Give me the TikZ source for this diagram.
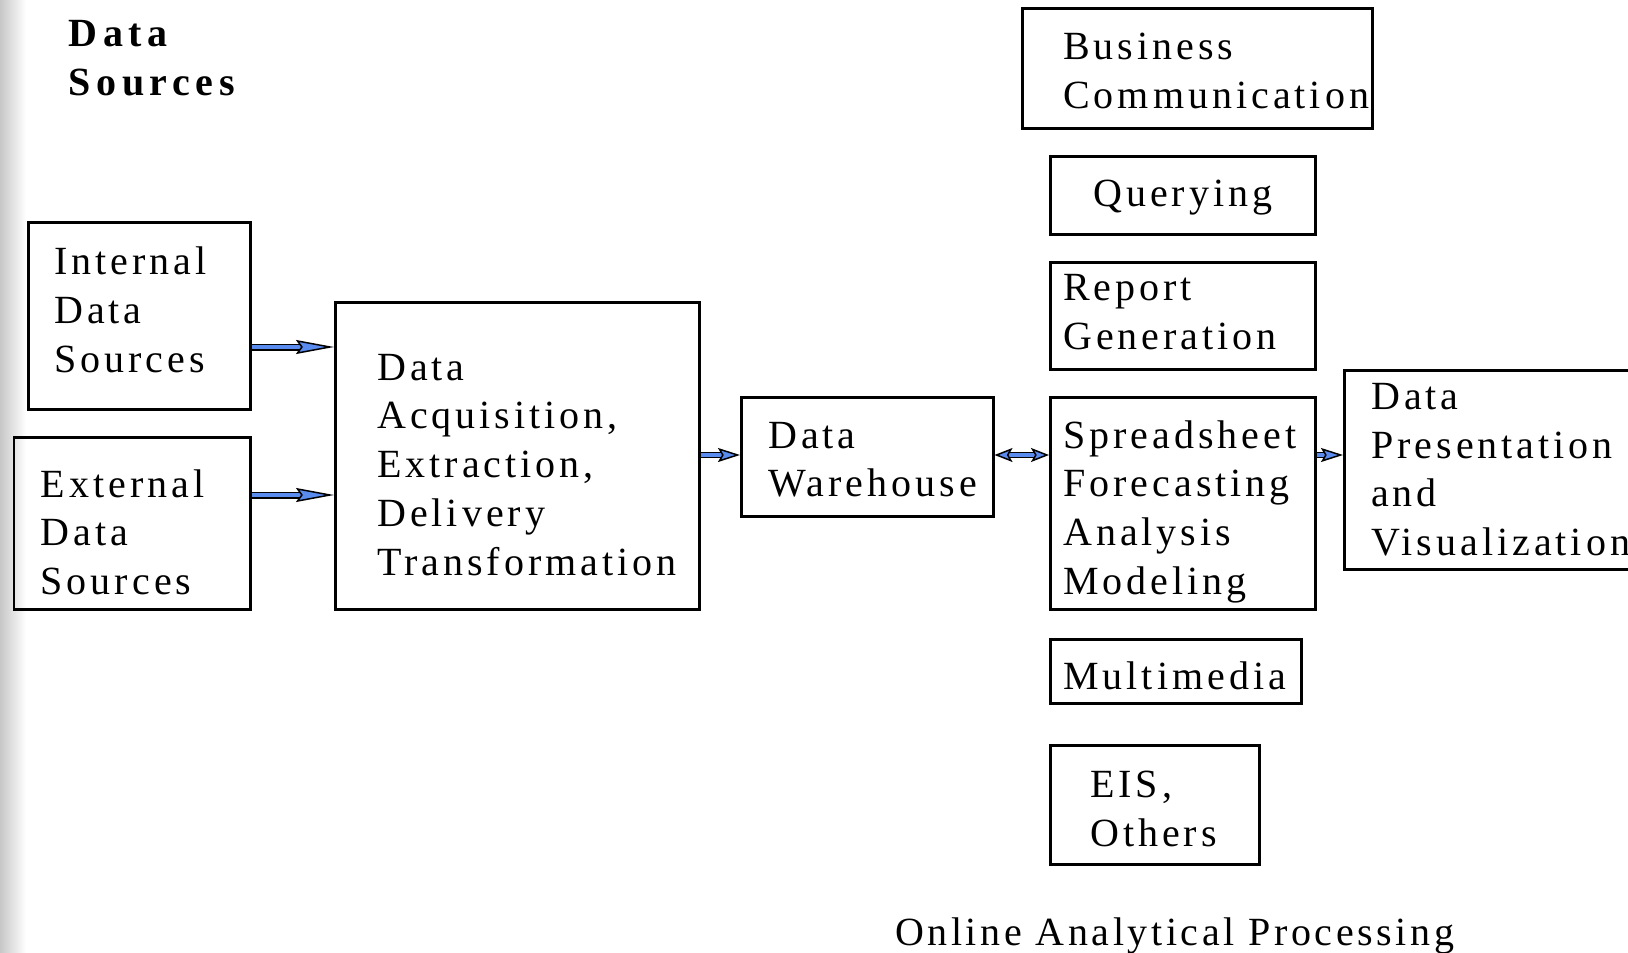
\documentclass[tikz,border=0pt]{standalone}
\usepackage{fontspec}
\setmainfont{Liberation Serif}[LetterSpace=10]
\newfontfamily\titlefont{Liberation Serif}[LetterSpace=14]
\newfontfamily\olapfont{Liberation Serif}[LetterSpace=9]
\usetikzlibrary{arrows.meta}
\definecolor{arrowblue}{RGB}{90,140,240}
\tikzset{
  box/.style={draw, line width=2.5pt, anchor=north west, inner sep=0pt},
  txt/.style={anchor=west, inner sep=0pt, align=left, font=\fontsize{40}{48.8}\selectfont},
  bigarr/.style={draw=black, line width=1.5pt, double=arrowblue, double distance=4pt,
    -{Stealth[length=38pt, width=14pt, inset=5pt, fill=arrowblue, line width=1.5pt]}},
  smallarr/.style={draw=black, line width=1.4pt, double=arrowblue, double distance=3.5pt,
    -{Stealth[length=22pt, width=14pt, inset=4pt, fill=arrowblue, line width=1.5pt]}},
  smallbiarr/.style={draw=black, line width=1.4pt, double=arrowblue, double distance=3.5pt,
    {Stealth[length=18pt, width=14pt, inset=4pt, fill=arrowblue, line width=1.5pt]}-{Stealth[length=18pt, width=14pt, inset=4pt, fill=arrowblue, line width=1.5pt]}},
}
\begin{document}
\begin{tikzpicture}[x=1pt,y=-1pt]
\useasboundingbox (0,0) rectangle (1628,953);
\shade[left color=black!22, right color=white] (0,0) rectangle (26,953);

\node[anchor=north west, inner sep=0pt, align=left, font=\titlefont\bfseries\fontsize{40}{48.8}\selectfont] (title) at (68.5,20) {Data\\Sources};

% boxes
\node[box, minimum width=222pt, minimum height=187pt] (int) at (27,221) {};
\node[box, minimum width=236.5pt, minimum height=172pt] (ext) at (12.5,436) {};
\node[box, minimum width=364pt, minimum height=307pt] (acq) at (334,301) {};
\node[box, minimum width=252pt, minimum height=119pt] (dw) at (740,396) {};
\node[box, minimum width=350pt, minimum height=120pt] (bus) at (1021,7) {};
\node[box, minimum width=265pt, minimum height=78pt] (qry) at (1049,155) {};
\node[box, minimum width=265pt, minimum height=107pt] (rep) at (1049,261) {};
\node[box, minimum width=265pt, minimum height=212pt] (spr) at (1049,396) {};
\node[box, minimum width=251pt, minimum height=64pt] (mm) at (1049,638) {};
\node[box, minimum width=209pt, minimum height=119pt] (eis) at (1049,744) {};
\node[box, minimum width=357pt, minimum height=199pt] (pres) at (1343,369) {};

% texts
\node[txt] (intT) at ([xshift=27pt, yshift=6pt]int.west) {Internal\\Data\\Sources};
\node[txt] (extT) at ([xshift=28pt, yshift=-9pt]ext.west) {External\\Data\\Sources};
\node[txt] (acqT) at ([xshift=43pt, yshift=-9pt]acq.west) {Data\\Acquisition,\\Extraction,\\Delivery\\Transformation};
\node[txt] (dwT) at ([xshift=28pt, yshift=-3pt]dw.west) {Data\\Warehouse};
\node[txt] (busT) at ([xshift=42pt, yshift=-3pt]bus.west) {Business\\Communication};
\node[txt, anchor=center] (qryT) at ([yshift=-2pt]qry.center) {Querying};
\node[txt] (repT) at ([xshift=14pt, yshift=4pt]rep.west) {Report\\Generation};
\node[txt] (sprT) at ([xshift=14pt, yshift=-8.5pt]spr.west) {Spreadsheet\\Forecasting\\Analysis\\Modeling};
\node[txt] (mmT) at ([xshift=14pt, yshift=-5pt]mm.west) {Multimedia};
\node[txt] (eisT) at ([xshift=41pt, yshift=-4pt]eis.west) {EIS,\\Others};
\node[txt] (presT) at ([xshift=28pt]pres.west) {Data\\Presentation\\and\\Visualization};

\node[anchor=base west, inner sep=0pt, font=\olapfont\fontsize{40}{48.8}\selectfont] (olap) at (895,945) {Online Analytical Processing};

% connectors
\draw[bigarr] (int.east |- 0,347) -- (acq.west |- 0,347);
\draw[bigarr] (ext.east |- 0,495) -- (acq.west |- 0,495);
\draw[smallarr] (acq.east |- 0,455) -- (dw.west |- 0,455);
\draw[smallbiarr] (dw.east |- 0,455) -- (spr.west |- 0,455);
\draw[smallarr] (spr.east |- 0,455) -- (pres.west |- 0,455);
\end{tikzpicture}
\end{document}
